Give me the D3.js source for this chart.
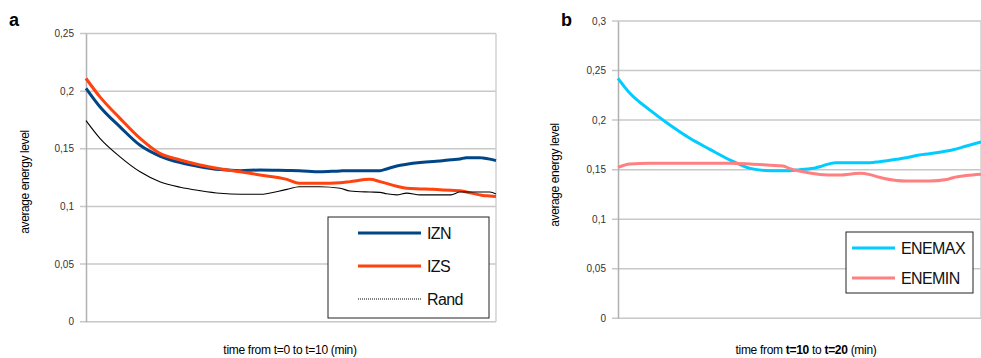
<!DOCTYPE html>
<html>
<head>
<meta charset="utf-8">
<script src="https://cdn.jsdelivr.net/npm/d3@7"></script>
<style>
  body { margin: 0; background: #fff; }
  svg { font-family: "Liberation Sans", Arial, sans-serif; }
  .tick text { fill: #333; font-size: 10px; }
</style>
</head>
<body>
<div id="graphicContainer"></div>
<script>
// panel a: time 0..10 min
var tA = [0, 0.34, 0.83, 1.32, 1.8, 2.3, 2.78, 3.27, 3.76, 4.24, 4.9, 5.2, 5.7, 6.2, 6.44, 6.93, 7.17, 7.33, 7.58, 7.82, 8.15, 8.47, 8.63, 8.9, 9.12, 9.28, 9.6, 9.68, 9.85, 10]
var izn = [0.2025, 0.1865, 0.169, 0.153, 0.1437, 0.138, 0.1345, 0.132, 0.131, 0.1316, 0.1312, 0.131, 0.130, 0.1308, 0.131, 0.131, 0.131, 0.1325, 0.135, 0.1365, 0.138, 0.139, 0.1394, 0.1405, 0.1412, 0.1423, 0.1423, 0.142, 0.141, 0.1397]
var izs = [0.211, 0.195, 0.1764, 0.159, 0.146, 0.1403, 0.136, 0.1327, 0.130, 0.1273, 0.1235, 0.120, 0.120, 0.1205, 0.1215, 0.1235, 0.1215, 0.120, 0.1175, 0.1157, 0.1152, 0.1148, 0.1145, 0.114, 0.1137, 0.1125, 0.110, 0.1095, 0.109, 0.1085]
var rand = [0.1744, 0.159, 0.143, 0.130, 0.1214, 0.1166, 0.1137, 0.1114, 0.1105, 0.1105, 0.1148, 0.117, 0.117, 0.1157, 0.1134, 0.1125, 0.1122, 0.111, 0.110, 0.1115, 0.110, 0.110, 0.110, 0.110, 0.1125, 0.1125, 0.1125, 0.1125, 0.1125, 0.1108]

// panel b: time 10..20 min
var tB = [10, 10.33, 10.88, 11.43, 11.98, 12.53, 13.09, 13.64, 14.19, 14.55, 14.74, 15, 15.46, 15.56, 16.0, 16.1, 16.66, 16.94, 17.2, 17.67, 17.94, 18.3, 18.58, 19.05, 19.23, 19.6, 20]
var enemax = [0.2422, 0.227, 0.210, 0.195, 0.1816, 0.1705, 0.1597, 0.1513, 0.149, 0.149, 0.149, 0.150, 0.152, 0.153, 0.157, 0.157, 0.157, 0.157, 0.158, 0.1604, 0.162, 0.1648, 0.166, 0.1688, 0.170, 0.1739, 0.178]
var enemin = [0.1523, 0.1557, 0.1564, 0.1564, 0.1564, 0.1564, 0.1564, 0.1557, 0.1545, 0.1537, 0.151, 0.1486, 0.1456, 0.1452, 0.1446, 0.1446, 0.1463, 0.145, 0.1423, 0.139, 0.1385, 0.1385, 0.1385, 0.140, 0.1419, 0.144, 0.1453]

var ticksA = [0, 0.05, 0.1, 0.15, 0.2, 0.25]
var ticksB = [0, 0.05, 0.1, 0.15, 0.2, 0.25, 0.3]

var fmt = function(d) { return String(+d.toFixed(2)).replace(".", ",") }

var svg = d3.select("#graphicContainer").append("svg")
    .attr("width", 981)
    .attr("height", 358)

function makePanel(opt) {
    var x = d3.scaleLinear().domain(opt.xDomain).range([opt.left, opt.right])
    var y = d3.scaleLinear().domain([0, opt.yMax]).range([opt.bottom, opt.top])

    var g = svg.append("g")

    // gridlines
    g.append("g").selectAll("line")
        .data(opt.ticks)
        .enter().append("line")
        .attr("x1", opt.left - 6)
        .attr("x2", opt.right)
        .attr("y1", d => y(d))
        .attr("y2", d => y(d))
        .attr("stroke", "#c8c8c8")
        .attr("stroke-width", 1.5)

    g.append("line")
        .attr("x1", opt.right).attr("x2", opt.right)
        .attr("y1", opt.top).attr("y2", opt.bottom)
        .attr("stroke", "#d0d0d0").attr("stroke-width", 1.5)

    var yAxis = g.append("g")
        .attr("transform", "translate(" + opt.left + ",0)")
        .call(d3.axisLeft(y).tickValues(opt.ticks).tickFormat(fmt).tickSize(0).tickPadding(12))
    yAxis.select(".domain").attr("stroke", "#b0b0b0").attr("stroke-width", 1.5)

    // series
    var line = d3.line()
        .curve(d3.curveMonotoneX)
        .x(d => x(d[0]))
        .y(d => y(d[1]))

    opt.series.forEach(function(s) {
        g.append("path")
            .datum(d3.zip(opt.t, s.values))
            .attr("fill", "none")
            .attr("stroke", s.color)
            .attr("stroke-width", s.width)
            .attr("stroke-linejoin", "round")
            .attr("d", line)
    })

    // legend
    var lg = g.append("g")
    lg.append("rect")
        .attr("x", opt.legend.x).attr("y", opt.legend.y)
        .attr("width", opt.legend.w).attr("height", opt.legend.h)
        .attr("fill", "#fff").attr("stroke", "#222").attr("stroke-width", 1)
    opt.series.forEach(function(s, i) {
        var ly = opt.legend.y + opt.legend.first + i * opt.legend.step
        lg.append("line")
            .attr("x1", opt.legend.x + opt.legend.lx0)
            .attr("x2", opt.legend.x + opt.legend.lx1)
            .attr("y1", ly).attr("y2", ly)
            .attr("stroke", s.color)
            .attr("stroke-width", s.width)
            .attr("stroke-dasharray", s.dash || null)
        lg.append("text")
            .attr("x", opt.legend.x + opt.legend.tx)
            .attr("y", ly + 6)
            .attr("font-size", 16)
            .attr("letter-spacing", "-0.6px")
            .attr("fill", "#111")
            .text(s.name)
    })

    // panel letter
    g.append("text")
        .attr("x", opt.letterX).attr("y", 26)
        .attr("font-size", 18).attr("font-weight", "bold")
        .text(opt.letter)

    // y axis title
    g.append("text")
        .attr("transform", "translate(" + opt.yTitleX + "," + opt.yTitleY + ") rotate(-90)")
        .attr("text-anchor", "middle")
        .attr("font-size", 12)
        .attr("letter-spacing", "-0.4px")
        .text("average energy level")

    // x axis title
    var xt = g.append("text")
        .attr("x", opt.xTitleX).attr("y", 354)
        .attr("text-anchor", "middle")
        .attr("font-size", 12)
        .attr("letter-spacing", "-0.3px")
    opt.xTitle.forEach(function(p) {
        xt.append("tspan").attr("font-weight", p[1] ? "bold" : null).text(p[0])
    })
}

makePanel({
    left: 86, right: 496, top: 33.5, bottom: 321.7,
    xDomain: [0, 10], yMax: 0.25, ticks: ticksA, t: tA,
    letter: "a", letterX: 9, yTitleX: 29, yTitleY: 182, xTitleX: 290,
    xTitle: [["time from t=0 to t=10 (min)", false]],
    series: [
        { name: "IZN", values: izn, color: "#004586", width: 3 },
        { name: "IZS", values: izs, color: "#ff420e", width: 3 },
        { name: "Rand", values: rand, color: "#000", width: 1.1, dash: "1,1" }
    ],
    legend: { x: 328, y: 217, w: 161, h: 101, first: 16, step: 33, lx0: 30, lx1: 93, tx: 99 }
})

// the dash only applies in the legend; panel line for Rand is solid
svg.selectAll("path").filter(function() { return d3.select(this).attr("stroke") === "#000" }).attr("stroke-dasharray", null)

makePanel({
    left: 618, right: 981, top: 21, bottom: 318.3,
    xDomain: [10, 20], yMax: 0.3, ticks: ticksB, t: tB,
    letter: "b", letterX: 561, yTitleX: 559, yTitleY: 175, xTitleX: 806,
    xTitle: [["time from ", false], ["t=10", true], [" to ", false], ["t=20", true], [" (min)", false]],
    series: [
        { name: "ENEMAX", values: enemax, color: "#00ccff", width: 3 },
        { name: "ENEMIN", values: enemin, color: "#ff8080", width: 3 }
    ],
    legend: { x: 846, y: 232, w: 127, h: 61, first: 16, step: 30, lx0: 6, lx1: 49, tx: 55 }
})
</script>
</body>
</html>
